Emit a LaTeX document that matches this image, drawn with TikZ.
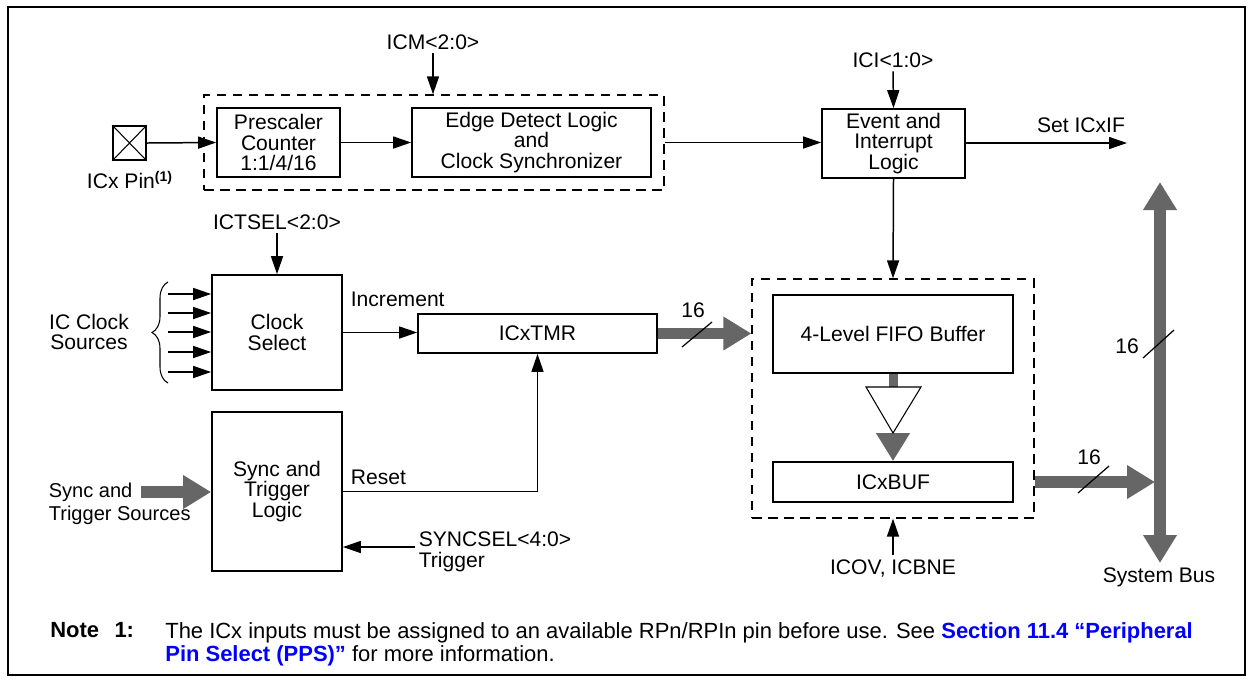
\documentclass[tikz,border=0pt]{standalone}
\usepackage{fontspec}
\setmainfont{Liberation Sans}
\usepackage{tikz}
\usetikzlibrary{arrows.meta, positioning, fit, calc, decorations.pathreplacing}
\definecolor{busgray}{RGB}{102,102,102}
\definecolor{linkblue}{RGB}{0,0,255}

\begin{document}
\begin{tikzpicture}[
  x=0.02cm, y=-0.02cm,
  font=\fontsize{12}{11.8}\selectfont,
  box/.style={draw, rectangle, line width=1pt, inner sep=1pt, align=center},
  grp/.style={draw, rectangle, line width=0.9pt, dash pattern=on 0.19cm off 0.13cm, inner sep=0.24cm},
  lbl/.style={inner sep=2pt, align=center},
  msg/.style={-{Triangle[length=0.36cm, width=0.24cm]}, line width=0.85pt},
  bus/.style={-{Triangle[length=0.56cm, width=0.64cm]}, line width=0.23cm, busgray},
  slash/.style={line width=0.7pt}
]
\useasboundingbox (0,0) rectangle (1253,681);
\draw[line width=0.9pt] (8,7) rectangle (1245,675);

% input capture path
\node[draw, line width=0.9pt, minimum width=0.66cm, minimum height=0.68cm, inner sep=0pt] (pin) at (129.5,143) {};
\draw[line width=0.6pt] (pin.north west) -- (pin.south east) (pin.south west) -- (pin.north east);
\node[lbl] (pinlbl) at (130,180) {ICx Pin\textsuperscript{\textbf{(1)}}};

\node[box, minimum width=2.46cm, minimum height=1.38cm] (presc) at (278.5,142.5) {Prescaler\\Counter\\1:1/4/16};
\node[box, minimum width=4.78cm, minimum height=1.38cm] (edge) at (531.5,142.5) {Edge Detect Logic\\and\\Clock Synchronizer};
\node[grp, fit=(presc)(edge)] (capgrp) {};
\node[lbl] (icm) at (433,42) {ICM<2:0>};

\draw[msg] (icm.south) -- (icm.south |- capgrp.north);
\draw[msg] (pin.east) -- (presc.west);
\draw[msg] (presc.east) -- (edge.west);

\node[box, minimum width=2.86cm, minimum height=1.38cm] (event) at (893.5,143.5) {Event and\\Interrupt\\Logic};
\node[lbl] (ici) at (893,60) {ICI<1:0>};
\node[lbl] (setlbl) at (1081,125) {Set ICxIF};
\coordinate (setend) at (1127,143);

\draw[msg] (ici.south) -- (event.north);
\draw[msg] (capgrp.east) -- (capgrp.east -| event.west);
\draw[msg] (event.east |- setend) -- (setend);

% clock select and timer
\node[box, minimum width=2.6cm, minimum height=2.3cm] (csel) at (277,332.5) {Clock\\Select};
\node[lbl] (ictsel) at (277,222) {ICTSEL<2:0>};
\node[lbl] (clksrc) at (89,332) {IC Clock\\Sources};
\draw[msg] (ictsel.south) -- (csel.north);
\draw[decorate, decoration={brace, amplitude=0.32cm}, line width=0.6pt] (168,383) -- (168,282);
\foreach \yy [count=\i] in {294,313,332,352,372} {
  \coordinate (src\i) at (168,\yy);
  \draw[msg] (src\i) -- (src\i -| csel.west);
}

\node[box, minimum width=4.78cm, minimum height=0.78cm] (tmr) at (537.5,333.5) {ICxTMR};
\node[lbl, anchor=west] (inclbl) at (347,299) {Increment};
\draw[msg] (csel.east) -- (csel.east -| tmr.west);

% sync and trigger
\node[box, minimum width=2.6cm, minimum height=3.18cm] (sync) at (277,491.5) {Sync and\\Trigger\\Logic};
\node[lbl, anchor=west, align=left, font=\fontsize{11.4}{11.8}\selectfont] (synsrc) at (45,504) {Sync and\\[1.5pt]Trigger Sources};
\coordinate (synin) at (141,492);
\node[lbl, anchor=west] (rstlbl) at (347,477) {Reset};
\node[lbl, anchor=west, align=left] (syncsel) at (415,552) {SYNCSEL<4:0>\\Trigger};

\draw[bus] (synin) -- (synin -| sync.west);
\draw[msg] (sync.east) -| (tmr.south);
\draw[msg] ([yshift=0.1cm]syncsel.west) -- ([yshift=0.1cm]syncsel.west -| sync.east);

% FIFO and buffer
\node[box, minimum width=4.8cm, minimum height=1.56cm] (fifo) at (893,334) {4-Level FIFO Buffer};
\node[box, minimum width=4.8cm, minimum height=0.8cm] (buf) at (893,482) {ICxBUF};
\node[grp, fit=(fifo)(buf), inner xsep=0.4cm, inner ysep=0.3cm] (fifogrp) {};
\node[lbl] (icov) at (893,568) {ICOV, ICBNE};

\coordinate (trtop) at (893,387);
\coordinate (trtip) at (893,433);
\draw[busgray, line width=0.18cm] (fifo.south) -- (trtop);
\draw[bus] (trtip) -- (buf.north);
\draw[line width=0.6pt, fill=white] (866,387) -- (921,387) -- (trtip) -- cycle;

\draw[msg] (event.south) -- (fifogrp.north);
\draw[msg] (icov.north) -- (fifogrp.south);

% 16-bit paths
\draw[bus] (tmr.east) -- (fifogrp.west |- tmr.east);
\node[lbl] (w1) at (693,310) {16};
\draw[slash] (682,347) -- (712,322);

\coordinate (bustop) at (1160,182);
\coordinate (busbot) at (1160,563);
\draw[bus, {Triangle[length=0.56cm, width=0.64cm]}-{Triangle[length=0.56cm, width=0.64cm]}] (bustop) -- (busbot);
\node[lbl] (w3) at (1127,346) {16};
\draw[slash] (1143,358) -- (1174,330);
\node[lbl] (sysbus) at (1159,577) {System Bus};

\draw[bus, shorten >=0.1cm] (buf.east -| fifogrp.east) -- (buf.east -| bustop);
\node[lbl] (w2) at (1089,457) {16};
\draw[slash] (1078,493) -- (1109,466);

% note
\node[anchor=north west, inner sep=0pt, font=\fontsize{12.5}{13}\selectfont\bfseries] (note) at (50,622) {Note\hspace{0.7em}1:};
\node[anchor=north west, inner sep=0pt, align=left, font=\fontsize{12.5}{13}\selectfont] (notetxt) at (165,622) {The ICx inputs must be assigned to an available RPn/RPIn pin before use. See {\color{linkblue}\bfseries Section 11.4 “Peripheral}\\{\color{linkblue}\bfseries Pin Select (PPS)”} for more information.};

\end{tikzpicture}
\end{document}
